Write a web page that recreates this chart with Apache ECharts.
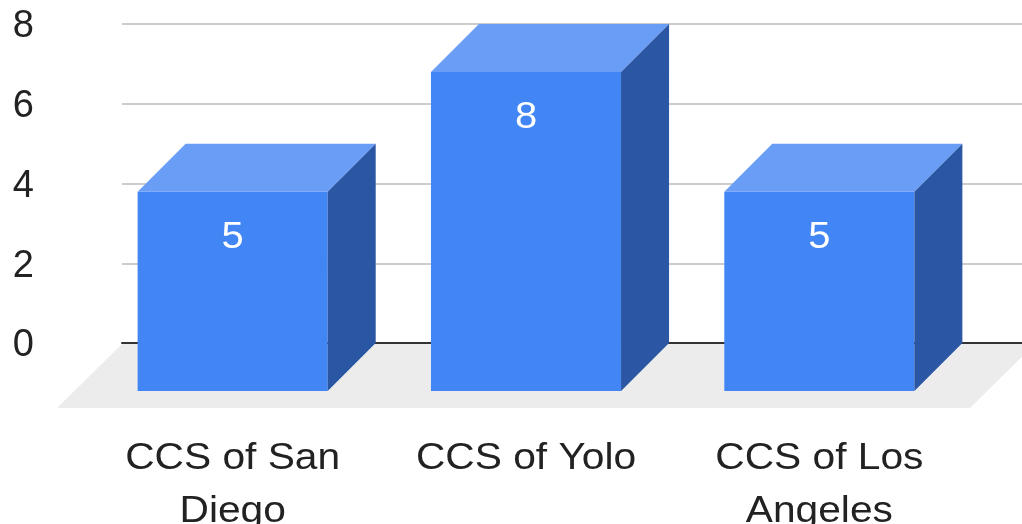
<!DOCTYPE html>
<html><head><meta charset="utf-8">
<script src="https://cdn.jsdelivr.net/npm/echarts@6/dist/echarts.min.js"></script>
<style>html,body{margin:0;padding:0;background:#fff}#c{width:1022px;height:524px}</style>
</head><body><div id="c"></div>
<script>
var categories = ['CCS of San\nDiego', 'CCS of Yolo', 'CCS of Los\nAngeles'];
var values = [5, 8, 5];
var yTicks = [0, 2, 4, 6, 8];

var DX = 48, DY = 48;
var FONT = 'Liberation Sans, Arial, sans-serif';
var chart = echarts.init(document.getElementById('c'), null, {renderer: 'canvas'});

function renderFloor(params, api) {
  var cs = params.coordSys;
  var y0 = api.coord([0, 0])[1] + 1;
  var xl = cs.x, xr = cs.x + cs.width + 13;
  return {
    type: 'polygon', z2: 0,
    shape: {points: [[xl, y0], [xr, y0], [xr - 65, y0 + 64], [xl - 65, y0 + 64]]},
    style: {fill: '#ececec'}
  };
}

function renderBar(params, api) {
  var idx = api.value(0), v = api.value(1);
  var p0 = api.coord([idx, 0]);
  var p1 = api.coord([idx, v]);
  var w = api.size([1, 0])[0] * 0.648;
  var xl = p0[0] - w / 2, xr = p0[0] + w / 2, yt = p1[1], yb = p0[1];
  return {
    type: 'group',
    children: [
      {type: 'rect', shape: {x: xl, y: yt, width: w, height: yb - yt}, style: {fill: '#4285f4'}},
      {type: 'polygon', shape: {points: [[xl, yt], [xr, yt], [xr + DX, yt - DY], [xl + DX, yt - DY]]}, style: {fill: '#699df6'}},
      {type: 'polygon', shape: {points: [[xr, yt], [xr + DX, yt - DY], [xr + DX, yb - DY], [xr, yb]]}, style: {fill: '#2b56a3'}},
      {type: 'text', x: p0[0], y: yt + 46, scaleX: 1.08,
       style: {x: 0, y: 0, text: String(v), fill: '#ffffff', font: '37px ' + FONT, align: 'center', verticalAlign: 'middle'}},
      {type: 'text', x: p0[0], y: yb + 42, scaleX: 1.1,
       style: {x: 0, y: 0, text: categories[idx], fill: '#222222', font: '37px ' + FONT, lineHeight: 52.5, align: 'center', verticalAlign: 'top'}}
    ]
  };
}

chart.setOption({
  animation: false,
  grid: [
    {left: 122, right: 0, top: 24, bottom: 181, outerBoundsMode: 'none', containLabel: false},
    {left: 86, right: 56, top: 72, bottom: 133, outerBoundsMode: 'none', containLabel: false}
  ],
  xAxis: [
    {gridIndex: 0, type: 'category', data: categories, axisLabel: {show: false}, axisTick: {show: false},
     axisLine: {show: true, lineStyle: {color: '#333333', width: 2}}, z: 3},
    {gridIndex: 1, type: 'category', data: categories, axisTick: {show: false}, axisLine: {show: false},
     axisLabel: {show: false}}
  ],
  yAxis: [
    {gridIndex: 0, type: 'value', min: yTicks[0], max: yTicks[yTicks.length - 1], interval: 2,
     axisLine: {show: false}, axisTick: {show: false},
     axisLabel: {margin: 88, align: 'right', formatter: '{t|{value}}',
       rich: {t: {fontSize: 38, color: '#222222', fontFamily: FONT, padding: [6, 0, 0, 0]}}},
     splitLine: {show: true, lineStyle: {color: '#cccccc', width: 2}}},
    {gridIndex: 1, type: 'value', min: yTicks[0], max: yTicks[yTicks.length - 1], interval: 2, show: false, splitLine: {show: false}}
  ],
  series: [
    {type: 'custom', xAxisIndex: 0, yAxisIndex: 0, data: [[0, 0]], renderItem: renderFloor, z: 1, silent: true},
    {type: 'custom', xAxisIndex: 1, yAxisIndex: 1, data: values.map(function (v, i) { return [i, v]; }), renderItem: renderBar, z: 5, silent: true, clip: false}
  ]
});
</script></body></html>
